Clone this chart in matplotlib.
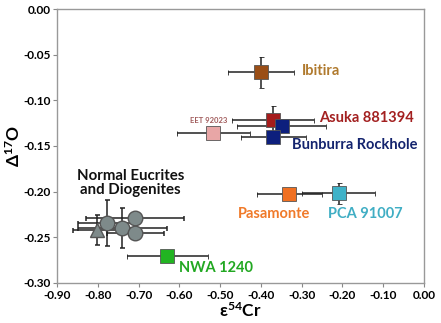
import numpy as np
import matplotlib
matplotlib.use("Agg")
import matplotlib.pyplot as plt

plt.rcParams['font.family'] = ['Lato', 'DejaVu Sans']
plt.rcParams['mathtext.fontset'] = 'custom'
plt.rcParams['mathtext.rm'] = 'Lato'
plt.rcParams['mathtext.bf'] = 'Lato:bold'

# named meteorites: eps54Cr, D17O, x err, y err
names = ["Ibitira", "Asuka 881394", "Bunburra A", "Bunburra B", "EET 92023",
         "Pasamonte", "PCA 91007", "NWA 1240"]
cr = [-0.40, -0.37, -0.349, -0.37, -0.517, -0.330, -0.209, -0.630]
o17 = [-0.069, -0.121, -0.128, -0.140, -0.136, -0.203, -0.202, -0.271]
cr_err = [0.08, 0.10, 0.11, 0.08, 0.09, 0.08, 0.09, 0.10]
o17_err = [0.017, 0.015, 0.004, 0.004, 0.003, 0.003, 0.011, 0.003]
face = ["#9a4e16", "#a51c1c", "#0d1f7d", "#0d1f7d", "#e8a6a6",
        "#f07022", "#3fb2c8", "#22b422"]

# normal eucrites / diogenites (circles) + triangle
eu_cr = [-0.779, -0.740, -0.709, -0.709]
eu_o17 = [-0.234, -0.240, -0.229, -0.245]
eu_cr_err = [0.07, 0.11, 0.12, 0.07]
eu_o17_err = [0.025, 0.022, 0.004, 0.008]
tri_cr = [-0.802]
tri_o17 = [-0.242]
tri_cr_err = [0.06]
tri_o17_err = [0.016]

labels = ["Ibitira", "Asuka 881394", "Bunburra Rockhole", "EET 92023",
          "Pasamonte", "PCA 91007", "NWA 1240", "Normal Eucrites\nand Diogenites"]
label_x = [-0.30, -0.258, -0.324, -0.574, -0.457, -0.236, -0.601, -0.721]
label_y = [-0.068, -0.1195, -0.149, -0.122, -0.224, -0.224, -0.284, -0.1905]
label_col = ["#b07a2e", "#a32020", "#14246e", "#a05a5a", "#f07a2a",
             "#40aec4", "#22a822", "#111111"]
label_size = [10.5, 10.5, 10.5, 5.5, 10.5, 10.5, 10.5, 10.8]

fig = plt.figure(figsize=(4.41, 3.23), dpi=100)
ax = fig.add_axes([0.130, 0.124, 0.831, 0.848])

ebkw = dict(ecolor="#222222", elinewidth=1.1, capsize=1.8, capthick=1.1, linestyle="none")

ax.errorbar(tri_cr, tri_o17, xerr=tri_cr_err, yerr=tri_o17_err, marker="^", ms=10,
            mfc="#7e8a8a", mec="#555555", zorder=3, **ebkw)
for i in range(len(eu_cr)):
    ax.errorbar(eu_cr[i], eu_o17[i], xerr=eu_cr_err[i], yerr=eu_o17_err[i], marker="o",
                ms=10.5, mfc="#7e8a8a", mec="#555555", zorder=3, **ebkw)

for i in range(len(cr)):
    ax.errorbar(cr[i], o17[i], xerr=cr_err[i], yerr=o17_err[i], marker="s", ms=10,
                mfc=face[i], mec="#555555", mew=0.6, zorder=3, **ebkw)

for i, t in enumerate(labels):
    ha = "center" if i == len(labels) - 1 else "left"
    ax.text(label_x[i], label_y[i], t, color=label_col[i], fontsize=label_size[i],
            fontweight="bold", ha=ha, va="center", linespacing=0.95)

ax.set_xlim(-0.9, 0.0)
ax.set_ylim(-0.30, 0.0)
ax.set_xticks(np.arange(-0.9, 0.001, 0.1))
ax.set_yticks(np.arange(-0.30, 0.001, 0.05))
ax.xaxis.set_major_formatter(plt.FuncFormatter(lambda v, p: "%.2f" % (0.0 if abs(v) < 1e-9 else v)))
ax.yaxis.set_major_formatter(plt.FuncFormatter(lambda v, p: "%.2f" % (0.0 if abs(v) < 1e-9 else v)))
for lab in ax.get_xticklabels() + ax.get_yticklabels():
    lab.set_fontweight("bold")
    lab.set_fontsize(8.5)
ax.tick_params(colors="#888888", labelcolor="black", length=3, width=0.8, pad=2)
for s in ax.spines.values():
    s.set_color("#999999")
    s.set_linewidth(1.0)

ax.set_xlabel(r"$\mathregular{\varepsilon^{54}}$Cr", fontsize=12.5, fontweight="bold", labelpad=0)
ax.set_ylabel(r"$\mathregular{\Delta^{17}}$O", fontsize=12.5, fontweight="bold")
ax.yaxis.set_label_coords(-0.095, 0.5)

fig.savefig("out.png", dpi=100)
